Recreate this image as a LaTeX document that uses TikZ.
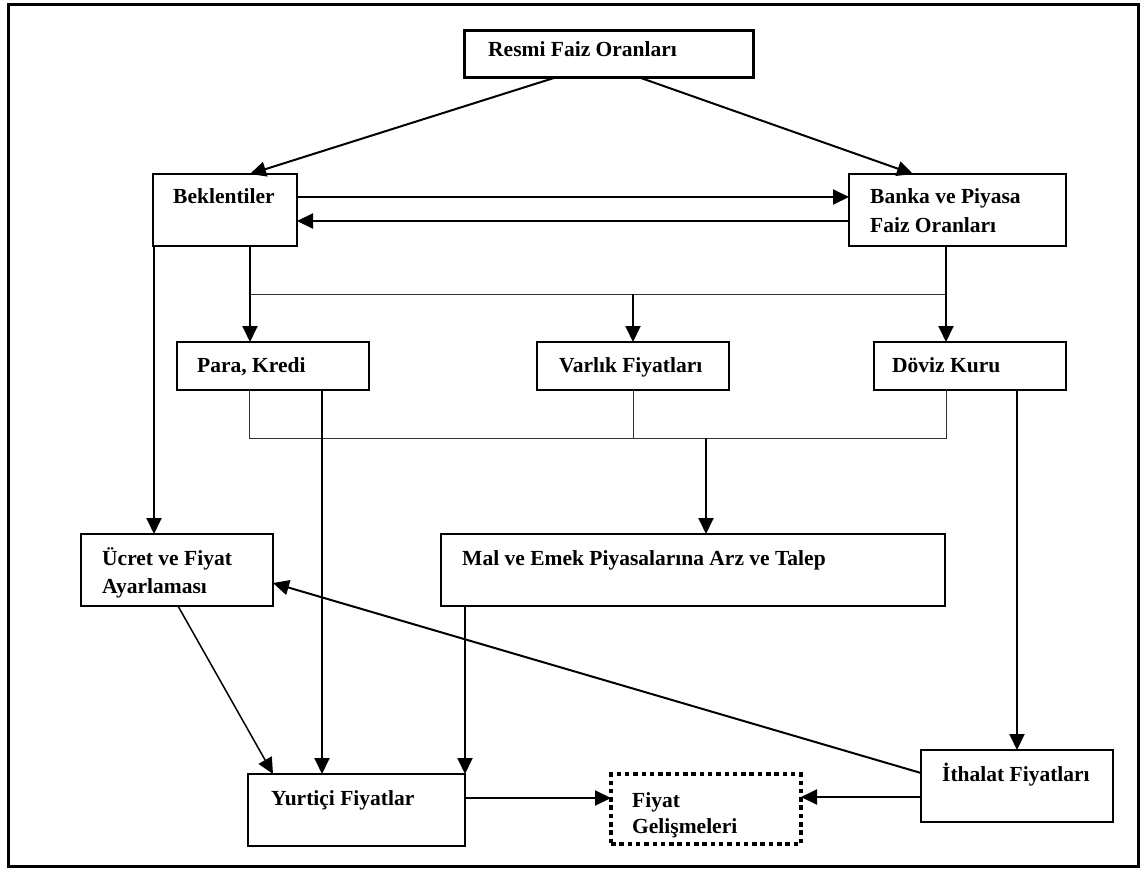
\documentclass[tikz,border=0pt]{standalone}
\usepackage{fontspec}
\setmainfont{Liberation Serif}
\usetikzlibrary{arrows.meta,calc}
\begin{document}
\begin{tikzpicture}[x=1pt,y=-1pt,
  box/.style={draw=black,line width=1.3pt,rectangle,anchor=north west,inner sep=0pt,outer sep=0pt},
  lbl/.style={anchor=base west,inner sep=0pt,font=\fontsize{21.5}{28.5}\selectfont\bfseries},
  conn/.style={draw=black,line width=2pt,-{Triangle[length=16pt,width=15pt]}},
  slimconn/.style={conn,line width=1.5pt},
  bus/.style={draw=black!80,line width=1pt}
]
\useasboundingbox (0,0) rectangle (1144,872);
% outer frame
\draw[line width=3pt] (8.5,4.5) rectangle (1138.5,866);

% boxes
\node[box,line width=3pt,minimum width=289pt,minimum height=47pt] (resmi) at (464.5,30.5) {};
\node[box,minimum width=144pt,minimum height=72pt] (bek) at (153,174) {};
\node[box,minimum width=217pt,minimum height=72pt] (banka) at (849,174) {};
\node[box,minimum width=192pt,minimum height=48pt] (para) at (177,342) {};
\node[box,minimum width=192pt,minimum height=48pt] (varlik) at (537,342) {};
\node[box,minimum width=192pt,minimum height=48pt] (doviz) at (874,342) {};
\node[box,minimum width=192pt,minimum height=72pt] (ucret) at (81,534) {};
\node[box,minimum width=504pt,minimum height=72pt] (mal) at (441,534) {};
\node[box,minimum width=217pt,minimum height=72pt] (yurt) at (248,774) {};
\node[box,line width=4.5pt,dash pattern=on 4.5pt off 3.8pt,minimum width=190pt,minimum height=70pt] (fiyat) at (611,774) {};
\node[box,minimum width=192pt,minimum height=72pt] (ithalat) at (921,750) {};

% labels
\node[lbl] (resmi-t) at ($(resmi.north west)+(23.5,26.5)$) {Resmi Faiz Oranları};
\node[lbl] (bek-t) at ($(bek.north west)+(20,30)$) {Beklentiler};
\node[lbl] (banka-t) at ($(banka.north west)+(21,30)$) {\begin{tabular}[t]{@{}l@{}}Banka ve Piyasa\\Faiz Oranları\end{tabular}};
\node[lbl] (para-t) at ($(para.north west)+(20,30)$) {Para, Kredi};
\node[lbl] (varlik-t) at ($(varlik.north west)+(22,30)$) {Varlık Fiyatları};
\node[lbl] (doviz-t) at ($(doviz.north west)+(18,30)$) {Döviz Kuru};
\node[lbl] (ucret-t) at ($(ucret.north west)+(21,31)$) {\begin{tabular}[t]{@{}l@{}}Ücret ve Fiyat\\Ayarlaması\end{tabular}};
\node[lbl] (mal-t) at ($(mal.north west)+(21,31)$) {Mal ve Emek Piyasalarına Arz ve Talep};
\node[lbl] (yurt-t) at ($(yurt.north west)+(23,31)$) {Yurtiçi Fiyatlar};
\node[lbl] (fiyat-t) at ($(fiyat.north west)+(21,33)$) {\begin{tabular}[t]{@{}l@{}}Fiyat\\[-2.5pt]Gelişmeleri\end{tabular}};
\node[lbl] (ithalat-t) at ($(ithalat.north west)+(21,31)$) {İthalat Fiyatları};

% policy rate to expectations and market rates
\draw[conn] ($(resmi.south west)+(91,0)$) -- ($(bek.north west)+(97,0)$);
\draw[conn] ($(resmi.south west)+(175,0)$) -- ($(banka.north west)+(64,0)$);
\draw[conn] ($(bek.north east)+(0,23)$) -- ($(banka.north west)+(0,23)$);
\draw[conn] ($(banka.north west)+(0,47)$) -- ($(bek.north east)+(0,47)$);

% upper distribution bus
\coordinate (topL) at (250,294);
\coordinate (topR) at (946,294);
\draw[bus] (topL) -- (topR);
\draw[conn] (topL |- bek.south) -- (topL |- para.north);
\draw[conn] (topR |- banka.south) -- (topR |- doviz.north);
\draw[conn] (varlik.north |- topL) -- (varlik.north);

% lower collecting bus
\coordinate (botL) at (249,438);
\coordinate (botR) at (946,438);
\coordinate (botM) at (706,438);
\draw[bus] (botL |- para.south) -- (botL) -- (botR) -- (botR |- doviz.south);
\draw[bus] (varlik.south) -- (varlik.south |- botL);
\draw[conn] (botM) -- (botM |- mal.north);

% long vertical links
\coordinate (bekdrop) at (154,0);
\draw[conn] (bekdrop |- bek.south) -- (bekdrop |- ucret.north);
\coordinate (paradrop) at (322,0);
\draw[conn] (paradrop |- para.south) -- (paradrop |- yurt.north);
\draw[conn] (ithalat.north |- doviz.south) -- (ithalat.north);
\draw[conn] (yurt.north east |- mal.south) -- (yurt.north east);

% links into wages and domestic prices
\draw[slimconn] ($(ucret.south west)+(97,0)$) -- ($(yurt.north west)+(25,0)$);
\draw[conn] ($(ithalat.north west)+(0,23)$) -- ($(ucret.north east)+(0,49)$);

% into price developments
\coordinate (yout) at ($(yurt.north east)+(0,24)$);
\draw[conn] (yout) -- (yout -| fiyat.west);
\coordinate (iout) at ($(ithalat.north west)+(0,47)$);
\draw[conn] (iout) -- (iout -| fiyat.east);
\end{tikzpicture}
\end{document}
